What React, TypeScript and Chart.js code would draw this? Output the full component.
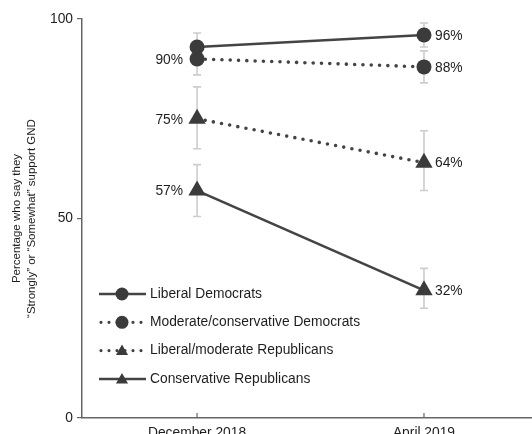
import React, { useEffect, useRef } from 'react';
import { Chart, registerables } from 'chart.js';

Chart.register(...registerables);

// ---------- data ----------
const categories = ['December 2018', 'April 2019'];
const seriesNames = [
  'Liberal Democrats',
  'Moderate/conservative Democrats',
  'Liberal/moderate Republicans',
  'Conservative Republicans',
];
const liberalDemocrats = [93, 96];
const moderateDemocrats = [90, 88];
const liberalModerateRepublicans = [75, 64];
const conservativeRepublicans = [57, 32];

const liberalDemocratsErr = [[89.5, 96.5], [93, 99]];
const moderateDemocratsErr = [[86, 94], [84, 92]];
const liberalModerateRepublicansErr = [[67.5, 83], [57, 72]];
const conservativeRepublicansErr = [[50.5, 63.5], [27.5, 37.5]];

const showLabel = [[false, true], [true, true], [true, true], [true, true]];
const yTicks = [0, 50, 100];
const yTitle = ['Percentage who say they', '\u201cStrongly\u201d or \u201cSomewhat\u201d support GND'];

const seriesValues = [liberalDemocrats, moderateDemocrats, liberalModerateRepublicans, conservativeRepublicans];
const seriesErrors = [liberalDemocratsErr, moderateDemocratsErr, liberalModerateRepublicansErr, conservativeRepublicansErr];

// ---------- styles ----------
const FONT = '"Liberation Sans", Arial, Helvetica, sans-serif';
const FS = 13.8;
const INK = '#3b3b3b';
const LINE = '#444444';
const ERR = '#cdcdcd';
const AXIS = '#666666';
const TEXT = '#1e1e1e';
const dottedStyle = [false, true, true, false];
const markerStyle = ['circle', 'circle', 'triangle', 'triangle'];

function drawMarker(ctx: CanvasRenderingContext2D, style: string, x: number, y: number, r: number) {
  ctx.beginPath();
  if (style === 'circle') {
    ctx.arc(x, y, r, 0, Math.PI * 2);
  } else {
    for (let k = 0; k < 3; k++) {
      const a = (k * 2 * Math.PI) / 3;
      const px = x + Math.sin(a) * r;
      const py = y - Math.cos(a) * r;
      if (k === 0) ctx.moveTo(px, py);
      else ctx.lineTo(px, py);
    }
    ctx.closePath();
  }
  ctx.fill();
}

const overlayPlugin = {
  id: 'overlay',
  beforeDatasetsDraw(chart: any) {
    const { ctx, scales } = chart;
    const x = scales.x;
    const y = scales.y;
    ctx.save();
    // error bars
    ctx.strokeStyle = ERR;
    ctx.lineWidth = 1.6;
    seriesErrors.forEach((series) => {
      series.forEach(([lo, hi], i) => {
        const px = x.getPixelForValue(i);
        const yl = y.getPixelForValue(lo);
        const yh = y.getPixelForValue(hi);
        ctx.beginPath();
        ctx.moveTo(px, yl);
        ctx.lineTo(px, yh);
        ctx.moveTo(px - 4, yl);
        ctx.lineTo(px + 4, yl);
        ctx.moveTo(px - 4, yh);
        ctx.lineTo(px + 4, yh);
        ctx.stroke();
      });
    });
    // inward x tick marks
    ctx.strokeStyle = AXIS;
    ctx.lineWidth = 1.2;
    categories.forEach((_, i) => {
      const px = x.getPixelForValue(i);
      ctx.beginPath();
      ctx.moveTo(px, y.bottom);
      ctx.lineTo(px, y.bottom - 5);
      ctx.stroke();
    });
    ctx.restore();
  },
  afterDatasetsDraw(chart: any) {
    const { ctx, scales } = chart;
    const x = scales.x;
    const y = scales.y;
    ctx.save();
    ctx.font = `${FS}px ${FONT}`;
    ctx.fillStyle = TEXT;
    ctx.textBaseline = 'middle';
    seriesValues.forEach((vals, s) => {
      vals.forEach((v, i) => {
        if (!showLabel[s][i]) return;
        const px = x.getPixelForValue(i);
        const py = y.getPixelForValue(v) + 1;
        if (i === 0) {
          ctx.textAlign = 'right';
          ctx.fillText(`${v}%`, px - 14, py);
        } else {
          ctx.textAlign = 'left';
          ctx.fillText(`${v}%`, px + 11, py);
        }
      });
    });

    // legend
    const lx0 = 99;
    const lx1 = 146;
    const lxm = 122;
    const ly0 = 294;
    const lstep = 28.3;
    seriesNames.forEach((name, s) => {
      const ly = ly0 + s * lstep;
      ctx.strokeStyle = LINE;
      ctx.lineWidth = dottedStyle[s] ? 3.2 : 2.5;
      ctx.lineCap = dottedStyle[s] ? 'round' : 'butt';
      ctx.setLineDash(dottedStyle[s] ? [0, 8] : []);
      ctx.beginPath();
      ctx.moveTo(dottedStyle[s] ? lx0 + 2 : lx0, ly);
      ctx.lineTo(lx1, ly);
      ctx.stroke();
      ctx.setLineDash([]);
      ctx.fillStyle = INK;
      drawMarker(ctx, markerStyle[s], lxm, ly + (markerStyle[s] === 'triangle' ? 1 : 0), markerStyle[s] === 'circle' ? 6.5 : 7);
      ctx.fillStyle = TEXT;
      ctx.textAlign = 'left';
      ctx.textBaseline = 'middle';
      ctx.fillText(name, 150, ly);
    });
    ctx.restore();
  },
};

export default function App() {
  const canvasRef = useRef<HTMLCanvasElement | null>(null);

  useEffect(() => {
    if (!canvasRef.current) return;
    const datasets = seriesValues.map((vals, s) => ({
      label: seriesNames[s],
      data: vals.map((v, i) => ({ x: i, y: v })),
      borderColor: LINE,
      backgroundColor: INK,
      borderWidth: dottedStyle[s] ? 3.6 : 2.6,
      borderDash: dottedStyle[s] ? [0, 8.3] : [],
      borderCapStyle: dottedStyle[s] ? 'round' : 'butt',
      pointStyle: markerStyle[s],
      pointRadius: markerStyle[s] === 'circle' ? 7.5 : 10,
      pointBorderWidth: 0,
      pointBackgroundColor: INK,
      pointBorderColor: INK,
      tension: 0,
    }));

    const chart = new Chart(canvasRef.current, {
      type: 'line',
      data: { datasets } as any,
      options: {
        animation: false,
        responsive: true,
        maintainAspectRatio: false,
        layout: { autoPadding: false, padding: { top: 19, right: 0, bottom: 0, left: 0 } },
        plugins: {
          legend: { display: false },
          tooltip: { enabled: false },
        },
        scales: {
          x: {
            type: 'linear',
            min: -0.507,
            max: 1.476,
            afterBuildTicks: (scale: any) => {
              scale.ticks = categories.map((_, i) => ({ value: i }));
            },
            afterFit: (scale: any) => {
              scale.height = 16;
            },
            ticks: {
              callback: (v: any) => categories[v] ?? '',
              color: TEXT,
              font: { family: FONT, size: FS },
              padding: 7,
              maxRotation: 0,
              autoSkip: false,
            },
            grid: { display: false, drawTicks: false },
            border: { display: true, color: AXIS, width: 1.5 },
          },
          y: {
            type: 'linear',
            min: 0,
            max: 100,
            afterBuildTicks: (scale: any) => {
              scale.ticks = yTicks.map((v) => ({ value: v }));
            },
            afterFit: (scale: any) => {
              scale.width = 82;
            },
            ticks: {
              color: TEXT,
              font: { family: FONT, size: FS },
              padding: 4,
            },
            grid: { drawOnChartArea: false, drawTicks: true, tickLength: 5, color: AXIS, lineWidth: 1.2 },
            border: { display: true, color: AXIS, width: 1.5 },
            title: {
              display: true,
              text: yTitle,
              color: TEXT,
              font: { family: FONT, size: 11.5, lineHeight: 1.3 },
              padding: { top: 9.5, bottom: 0 },
            },
          },
        },
      } as any,
      plugins: [overlayPlugin],
    });
    return () => chart.destroy();
  }, []);

  return (
    <div style={{ position: 'absolute', left: 0, top: 0, width: 532, height: 434, background: '#fff' }}>
      <canvas ref={canvasRef} />
    </div>
  );
}
